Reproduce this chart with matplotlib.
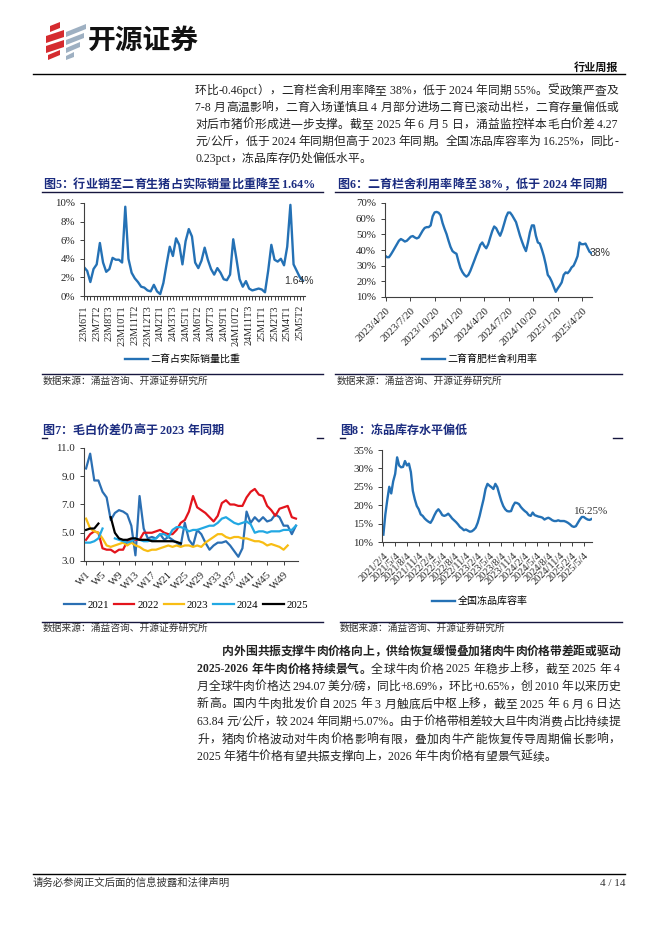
import numpy as np
import pandas as pd
import matplotlib
matplotlib.use('Agg')
import matplotlib.pyplot as plt
from matplotlib.patches import Polygon
from matplotlib.ticker import PercentFormatter

CJK = 'Noto Sans CJK SC'
SERIF = 'Liberation Serif'
SANS = 'Liberation Sans'
plt.rcParams['font.family'] = [SERIF, CJK]
plt.rcParams['axes.unicode_minus'] = False

BLUE = '#2471B5'
NAVY = '#1B2C80'
INK = '#222222'

# ---------------- data ----------------
# fig5: share of secondary-fattening pigs in actual sales (%), every 10 days
fig5_ticks = ['23M6T1', '23M7T2', '23M8T3', '23M10T1', '23M11T2', '23M12T3', '24M2T1', '24M3T3',
              '24M5T1', '24M6T2', '24M7T3', '24M9T1', '24M10T2', '24M11T3', '25M1T1', '25M2T3',
              '25M4T1', '25M5T2']
fig5_share = [3.1, 2.7, 1.5, 2.9, 3.4, 5.7, 3.6, 2.6, 2.9, 4.1, 3.9, 3.9, 3.6, 9.6, 4.0, 2.5, 1.9, 1.5,
              1.0, 0.9, 0.6, 0.5, 1.2, 0.5, 0.2, 1.4, 3.4, 5.3, 4.3, 6.2, 5.5, 3.4, 5.9, 7.2, 6.4, 3.6,
              3.0, 3.8, 5.2, 3.9, 2.9, 2.3, 3.0, 2.5, 1.8, 1.7, 2.3, 6.1, 4.0, 1.8, 1.0, 1.6, 0.8, 0.6,
              0.7, 0.8, 0.7, 0.4, 2.7, 5.5, 3.9, 3.7, 4.0, 3.3, 5.3, 9.8, 3.4, 2.7, 2.0, 1.64]

# fig6: pen utilisation of secondary fattening (%)
fig6_start, fig6_end = '2023-04-16', '2025-05-25'
fig6_ticks = ['2023/4/20', '2023/7/20', '2023/10/20', '2024/1/20', '2024/4/20', '2024/7/20',
              '2024/10/20', '2025/1/20', '2025/4/20']
fig6_util = [36.5, 35.4, 35.4, 37.2, 39.3, 41.5, 43.7, 45.9, 47.0, 46.3, 45.4, 45.9, 47.2, 48.5, 48.9,
             48.0, 47.4, 48.0, 50.2, 52.4, 54.1, 54.6, 54.6, 55.7, 61.5, 64.0, 64.3, 63.8, 62.2, 57.2,
             53.5, 50.2, 45.9, 42.0, 39.3, 38.3, 37.6, 32.8, 28.5, 25.9, 24.1, 23.0, 24.1, 26.7, 30.0,
             33.3, 36.7, 39.8, 43.3, 44.8, 42.6, 41.1, 43.7, 48.0, 52.0, 55.0, 53.9, 51.3, 49.1, 52.4,
             56.7, 61.1, 63.9, 63.9, 62.2, 60.0, 57.8, 53.5, 49.1, 45.4, 42.0, 39.3, 44.8, 51.3, 55.7,
             55.7, 49.1, 44.8, 44.1, 40.4, 36.1, 30.7, 24.1, 22.4, 19.8, 16.5, 13.3, 15.4, 17.2, 19.3,
             24.1, 25.7, 25.2, 26.7, 28.9, 30.0, 32.8, 36.1, 44.8, 43.7, 43.7, 44.1, 41.5, 38.9, 38.0]

# fig7: fat/standard hog price spread by week (yuan/kg)
nan = np.nan
weeks = np.arange(1, 53)
spread = {
    '2021': [9.55, 10.6, 8.7, 8.7, 7.9, 7.5, 5.9, 6.4, 6.6, 6.5, 6.3, 5.5, 3.4, 7.6, 5.3, 4.6, 4.7, 4.6,
             4.9, 4.5, 4.7, 4.5, 4.3, 4.1, 5.7, 4.5, 4.1, 5.2, 4.9, 4.3, 3.8, 4.1, 4.3, 4.3, 4.4, 4.1,
             3.7, 3.3, 3.9, 6.5, 5.7, 6.1, 5.8, 6.1, 5.8, 5.9, 6.3, 6.1, 5.5, 5.5, 4.9, 5.5],
    '2022': [4.5, 4.9, 5.1, 5.0, 3.9, 3.8, 3.8, 3.6, 3.8, 3.8, 4.4, 4.5, 4.5, 4.5, 5.0, 5.0, 5.0, 5.1,
             5.2, 5.0, 4.9, 4.9, 5.2, 5.7, 5.9, 6.5, 7.6, 6.8, 6.6, 6.4, 6.1, 5.8, 6.2, 7.1, 7.3, 7.0,
             7.0, 6.9, 6.9, 7.5, 7.9, 8.1, 7.7, 7.6, 6.9, 6.6, 6.2, 6.7, 6.8, 6.9, 6.1, 6.0],
    '2023': [6.0, 5.3, 5.1, 5.0, 4.6, 4.1, 4.0, 4.1, 4.2, 4.3, 4.1, 4.3, 4.1, 4.0, 3.8, 3.7, 3.8, 3.8,
             3.9, 4.0, 4.1, 4.0, 4.1, 4.0, 4.1, 4.1, 4.0, 4.1, 4.0, 4.3, 4.5, 4.7, 4.9, 4.9, 4.7, 4.6,
             4.7, 4.7, 4.6, 4.6, 4.5, 4.4, 4.4, 4.3, 4.1, 4.2, 4.1, 4.0, 3.8, 4.1, nan, nan],
    '2024': [4.3, 4.3, 4.4, 4.6, 5.3, nan, nan, 4.6, 4.5, 4.4, 4.3, 4.4, 4.6, 4.5, 4.4, 4.4, 4.5, 4.6,
             4.9, 4.9, 4.7, 5.2, 5.4, 5.4, 5.3, 5.1, 5.2, 5.2, 5.3, 5.4, 5.5, 5.5, 5.7, 6.0, 6.1, 5.9,
             5.7, 5.6, 5.7, 5.8, 5.6, 5.0, 5.1, 5.1, 5.0, 5.1, 5.1, 5.1, 5.2, 5.2, 5.2, 5.5],
    '2025': [5.2, 5.3, 5.3, 5.65, nan, nan, 6.1, 5.0, 4.6, 4.5, 4.5, 4.6, 4.6, 4.5, 4.5, 4.5, 4.4, 4.4,
             4.4, 4.4, 4.4, 4.4, 4.35, 4.25] + [nan] * 28,
}
spread_colors = {'2021': '#2B6FB3', '2022': '#E3141C', '2023': '#F8BD14', '2024': '#22A8E3',
                 '2025': '#000000'}

# fig8: national frozen-product storage rate (%), semi-monthly
fig8_ticks = ['2021/2/4', '2021/5/4', '2021/8/4', '2021/11/4', '2022/2/4', '2022/5/4', '2022/8/4',
              '2022/11/4', '2023/2/4', '2023/5/4', '2023/8/4', '2023/11/4', '2024/2/4', '2024/5/4',
              '2024/8/4', '2024/11/4', '2025/2/4', '2025/5/4']
fig8_rate = [12.0, 17.5, 21.5, 25.0, 23.2, 26.5, 28.5, 33.0, 30.8, 30.3, 30.4, 32.0, 30.8, 31.3, 29.0,
             23.9, 21.6, 19.8, 18.9, 17.5, 17.1, 16.4, 15.9, 15.5, 15.2, 16.1, 17.3, 18.3, 18.9, 18.2,
             17.3, 17.1, 17.3, 17.7, 17.1, 16.4, 15.9, 15.4, 14.8, 14.1, 13.7, 13.2, 13.4, 13.1, 12.8,
             12.9, 13.3, 13.9, 15.2, 17.1, 19.4, 21.6, 24.4, 25.8, 25.3, 24.9, 24.4, 25.8, 24.9, 23.0,
             21.2, 19.8, 18.9, 18.4, 18.3, 18.4, 19.8, 20.7, 20.6, 20.3, 19.5, 18.9, 18.4, 18.0, 17.3,
             17.1, 18.0, 17.3, 17.1, 16.9, 16.8, 16.6, 16.1, 16.4, 16.6, 16.3, 15.9, 15.7, 15.7, 15.9,
             15.7, 15.7, 15.7, 15.5, 15.2, 14.8, 14.3, 14.1, 14.3, 15.2, 16.1, 16.8, 16.8, 16.4, 16.1,
             16.0, 16.25]

para1 = ['环比-0.46pct），二育栏舍利用率降至 38%，低于 2024 年同期 55%。受政策严查及',
         '7-8 月高温影响，二育入场谨慎且 4 月部分进场二育已滚动出栏，二育存量偏低或',
         '对后市猪价形成进一步支撑。截至 2025 年 6 月 5 日，涌益监控样本毛白价差 4.27',
         '元/公斤，低于 2024 年同期但高于 2023 年同期。全国冻品库容率为 16.25%，同比-',
         '0.23pct，冻品库存仍处偏低水平。']
para2 = [[('内外围共振支撑牛肉价格向上，供给恢复缓慢叠加猪肉牛肉价格带差距或驱动', True)],
         [('2025-2026 年牛肉价格持续景气。', True), ('全球牛肉价格 2025 年稳步上移，截至 2025 年 4', False)],
         [('月全球牛肉价格达 294.07 美分/磅，同比+8.69%，环比+0.65%，创 2010 年以来历史', False)],
         [('新高。国内牛肉批发价自 2025 年 3 月触底后中枢上移，截至 2025 年 6 月 6 日达', False)],
         [('63.84 元/公斤，较 2024 年同期+5.07%。由于价格带相差较大且牛肉消费占比持续提', False)],
         [('升，猪肉价格波动对牛肉价格影响有限，叠加肉牛产能恢复传导周期偏长影响，', False)],
         [('2025 年猪牛价格有望共振支撑向上，2026 年牛肉价格有望景气延续。', False)]]
source = '数据来源：涌益咨询、开源证券研究所'

# ---------------- page ----------------
W, H = 662, 936
fig = plt.figure(figsize=(W / 100, H / 100), dpi=100)
page = fig.add_axes([0, 0, 1, 1])
page.set_xlim(0, W)
page.set_ylim(H, 0)
page.axis('off')
renderer = fig.canvas.get_renderer()


def text_line(segs, x0, y, x1=None, size=8.5, color=INK):
    # split into CJK chars and latin runs, then spread them to fill x0..x1
    toks = []
    for s, bold in segs:
        run = ''
        for ch in s:
            if ord(ch) >= 0x2E80:
                if run:
                    toks.append((run, bold, False))
                    run = ''
                toks.append((ch, bold, True))
            else:
                run += ch
        if run:
            toks.append((run, bold, False))
    widths = []
    for t, b, cj in toks:
        tt = page.text(0, 0, t, fontsize=size, family=CJK if cj else SERIF,
                       fontweight='bold' if b else 'normal')
        widths.append(tt.get_window_extent(renderer).width)
        tt.remove()
    gap = 0.0
    if x1 is not None and len(toks) > 1:
        gap = (x1 - x0 - sum(widths)) / (len(toks) - 1)
    x = x0
    for (t, b, cj), w in zip(toks, widths):
        page.text(x, y, t, fontsize=size, family=CJK if cj else SERIF, color=color,
                  fontweight='bold' if b else 'normal', ha='left', va='baseline')
        x += w + gap


def px_axes(x0, y0, x1, y1):
    ax = fig.add_axes([x0 / W, 1 - y1 / H, (x1 - x0) / W, (y1 - y0) / H])
    ax.set_facecolor('none')
    for s in ['top', 'right']:
        ax.spines[s].set_visible(False)
    for s in ['left', 'bottom']:
        ax.spines[s].set_color('#404040')
        ax.spines[s].set_linewidth(0.8)
    ax.tick_params(colors='#404040', labelcolor='#262626', length=3, width=0.7, labelsize=7.8)
    return ax


def legend_at(ax, cx, cy, ncol=1, size=7.2, family=CJK, hl=2.3, cs=0.6):
    ax.legend(loc='center', bbox_to_anchor=(cx / W, 1 - cy / H), bbox_transform=fig.transFigure,
              frameon=False, ncol=ncol, handlelength=hl, handletextpad=0.25, columnspacing=cs,
              prop={'family': family, 'size': size})


# logo
for pts in [[(50, 26), (60, 22), (60, 28), (50, 32)], [(46, 36), (64, 30), (64, 37), (46, 43)],
            [(46, 46), (64, 40), (64, 47), (46, 53)], [(48, 55), (60, 50), (60, 55), (48, 60)]]:
    page.add_patch(Polygon(pts, closed=True, color='#D52B2F', lw=0))
for pts in [[(66, 32), (86, 24), (86, 29), (66, 37)], [(66, 40), (84, 33), (84, 38), (66, 45)],
            [(66, 48), (80, 42), (80, 47), (66, 53)], [(66, 56), (74, 52), (74, 57), (66, 60)]]:
    page.add_patch(Polygon(pts, closed=True, color='#9EB0C2', lw=0))
page.text(88, 41, '开源证券', fontsize=20, family=CJK, fontweight='bold', color='#111111',
          ha='left', va='center')
page.text(618, 67, '行业周报', fontsize=8, family=CJK, fontweight='bold', color='#111111',
          ha='right', va='center')
page.plot([33, 625], [74, 74], color='black', lw=1.0)

# paragraph 1
for i, line in enumerate(para1):
    text_line([(line, False)], 195, 94 + 17 * i, None if i == len(para1) - 1 else 618)

# titles and rules
text_line([('图5：行业销至二育生猪占实际销量比重降至 1.64%', True)], 43, 188, size=8.7, color=NAVY)
text_line([('图6：二育栏舍利用率降至 38%，低于 2024 年同期', True)], 337, 188, size=8.7, color=NAVY)
text_line([('图7：毛白价差仍高于 2023 年同期', True)], 42, 434, size=8.7, color=NAVY)
text_line([('图8：冻品库存水平偏低', True)], 340, 434, size=8.7, color=NAVY)
RULE = '#16163F'
page.plot([42, 323], [191.5, 191.5], color=RULE, lw=1.0)
page.plot([335, 622], [191.5, 191.5], color=RULE, lw=1.0)
for seg in ([42, 47], [317, 323], [340, 345], [613, 622]):
    page.plot(seg, [438, 438], color=RULE, lw=1.0)
for x0, x1, y in [(42, 323, 374), (335, 622, 374), (42, 323, 622), (340, 622, 622)]:
    page.plot([x0, x1], [y, y], color=RULE, lw=1.0)
for x, y in [(43, 381), (337, 381), (43, 628), (340, 628)]:
    page.text(x, y, source, fontsize=7, family=CJK, color='#333333', ha='left', va='center')

# ---------------- fig5 ----------------
ax5 = px_axes(84, 203, 305, 296)
x5 = np.arange(len(fig5_share))
ax5.plot(x5, fig5_share, color=BLUE, lw=1.7, label='二育占实际销量比重')
ax5.set_ylim(0, 10)
ax5.set_yticks(range(0, 11, 2))
ax5.yaxis.set_major_formatter(PercentFormatter(decimals=0))
ax5.set_xlim(0, len(fig5_share) - 0.4)
ax5.set_xticks(x5[::4][:len(fig5_ticks)])
ax5.set_xticklabels(fig5_ticks, rotation=90, fontsize=7.3)
ax5.set_xticks(x5, minor=True)
ax5.tick_params(axis='x', which='both', length=3, width=0.7, colors='#404040', labelcolor='#262626')
ax5.text(x5[-1] - 1.2, fig5_share[-1], '1.64%', family=SANS, fontsize=7.5, color='#333333',
         ha='center', va='center')
legend_at(ax5, 183, 359)

# ---------------- fig6 ----------------
ax6 = px_axes(385, 203, 592, 297)
d6 = pd.date_range(fig6_start, fig6_end, periods=len(fig6_util))
ax6.plot(d6, fig6_util, color=BLUE, lw=1.7, label='二育育肥栏舍利用率')
ax6.set_ylim(10, 70)
ax6.set_yticks(range(10, 71, 10))
ax6.yaxis.set_major_formatter(PercentFormatter(decimals=0))
ax6.set_xlim(d6[0], d6[-1] + pd.Timedelta(days=2))
ax6.set_xticks(pd.to_datetime(fig6_ticks, format='%Y/%m/%d'))
ax6.set_xticklabels(fig6_ticks, rotation=45, ha='right', va='top', rotation_mode='anchor',
                    fontsize=7.8)
ax6.annotate('38%', (d6[-1], fig6_util[-1]), xytext=(-1.5, 0), textcoords='offset points',
             family=SANS, fontsize=7.5, color='#333333', ha='left', va='center')
legend_at(ax6, 480, 359)

# ---------------- fig7 ----------------
ax7 = px_axes(84, 448, 298, 561)
for yr, vals in spread.items():
    ax7.plot(weeks, vals, color=spread_colors[yr], lw=1.6, label=yr)
ax7.set_ylim(3, 11)
ax7.set_yticks([3, 5, 7, 9, 11])
ax7.set_yticklabels(['3.0', '5.0', '7.0', '9.0', '11.0'])
ax7.set_xlim(0.5, 52.5)
ax7.set_xticks(weeks[::4])
ax7.set_xticklabels(['W%d' % w for w in weeks[::4]], rotation=45, ha='right', va='top',
                    rotation_mode='anchor', fontsize=7.8)
legend_at(ax7, 186, 605, ncol=5, size=7.8, family=SERIF, hl=1.9, cs=0.45)

# ---------------- fig8 ----------------
ax8 = px_axes(382, 450, 592, 542)
x8 = np.arange(len(fig8_rate))
ax8.plot(x8, fig8_rate, color=BLUE, lw=1.7, label='全国冻品库容率')
ax8.set_ylim(10, 35)
ax8.set_yticks(range(10, 36, 5))
ax8.yaxis.set_major_formatter(PercentFormatter(decimals=0))
ax8.set_xlim(-0.7, len(fig8_rate) - 0.8)
ax8.set_xticks(x8[::6][:len(fig8_ticks)])
ax8.set_xticklabels(fig8_ticks, rotation=45, ha='right', va='top', rotation_mode='anchor',
                    fontsize=7.5)
ax8.annotate('16.25%', (x8[-1], fig8_rate[-1]), xytext=(0, 2.5), textcoords='offset points',
             fontsize=8, color='#333333', ha='center', va='bottom')
legend_at(ax8, 480, 601)

# paragraph 2
for i, segs in enumerate(para2):
    x0 = 222 if i == 0 else 197
    text_line(segs, x0, 655 + 17.5 * i, None if i == len(para2) - 1 else 620)

# footer
page.plot([33, 625], [874, 874], color='black', lw=1.0)
page.text(33, 883, '请务必参阅正文后面的信息披露和法律声明', fontsize=7.5, family=CJK, color='#333333',
          ha='left', va='center')
page.text(625, 883, '4 / 14', fontsize=8, family=SERIF, color='#333333', ha='right', va='center')

fig.savefig('out.png', dpi=100)
